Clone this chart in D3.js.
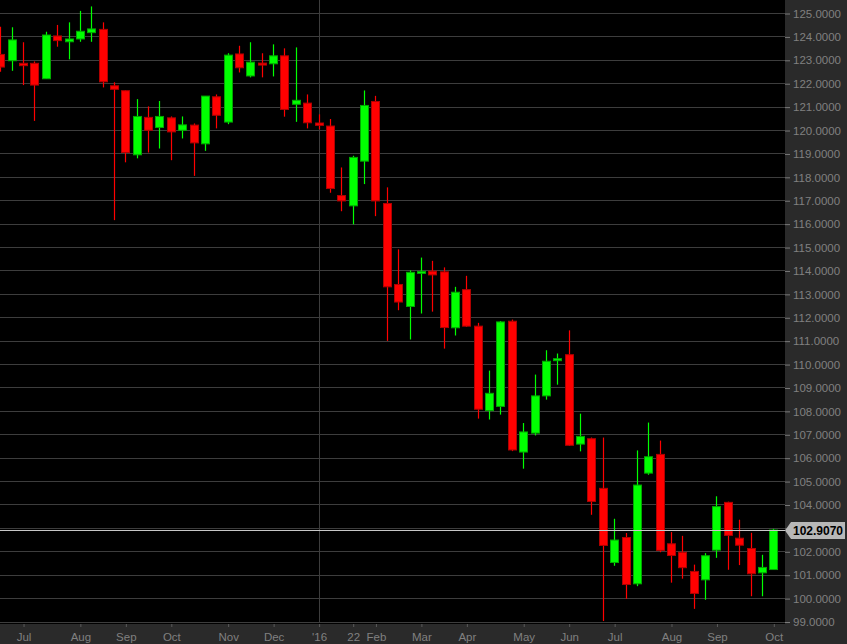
<!DOCTYPE html>
<html>
<head>
<meta charset="utf-8">
<script src="https://cdn.jsdelivr.net/npm/d3@7"></script>
<style>
  html, body { margin: 0; padding: 0; background: #2a2a2a; }
  svg { display: block; }
  text { font-family: "Liberation Sans", Arial, sans-serif; }
</style>
</head>
<body>
<svg id="chart" width="847" height="644"></svg>
<script>
// Weekly candles (week ending Friday)
const dates = [
  "2015-06-19","2015-06-26","2015-07-03","2015-07-10","2015-07-17","2015-07-24","2015-07-31",
  "2015-08-07","2015-08-14","2015-08-21","2015-08-28","2015-09-04","2015-09-11","2015-09-18",
  "2015-09-25","2015-10-02","2015-10-09","2015-10-16","2015-10-23","2015-10-30","2015-11-06",
  "2015-11-13","2015-11-20","2015-11-27","2015-12-04","2015-12-11","2015-12-18","2015-12-25",
  "2016-01-01","2016-01-08","2016-01-15","2016-01-22","2016-01-29","2016-02-05","2016-02-12",
  "2016-02-19","2016-02-26","2016-03-04","2016-03-11","2016-03-18","2016-03-25","2016-04-01",
  "2016-04-08","2016-04-15","2016-04-22","2016-04-29","2016-05-06","2016-05-13","2016-05-20",
  "2016-05-27","2016-06-03","2016-06-10","2016-06-17","2016-06-24","2016-07-01","2016-07-08",
  "2016-07-15","2016-07-22","2016-07-29","2016-08-05","2016-08-12","2016-08-19","2016-08-26",
  "2016-09-02","2016-09-09","2016-09-16","2016-09-23","2016-09-30","2016-10-07"
];
const opens = [
  123.23,122.96,122.85,122.85,122.19,124.02,123.77,123.89,124.16,124.30,121.89,121.68,118.94,120.54,
  120.11,120.52,119.99,120.21,119.41,121.42,120.34,123.25,122.31,122.86,122.83,123.17,121.10,121.15,
  120.30,120.17,117.20,116.76,118.67,121.22,116.86,113.40,112.46,113.90,113.97,113.94,111.55,113.18,
  111.62,108.01,108.19,111.83,106.24,107.05,108.64,110.16,110.40,106.58,106.81,104.69,101.52,102.59,
  100.61,105.34,106.14,102.32,101.96,101.14,100.78,102.05,104.09,102.56,102.12,101.08,101.22
];
const highs = [
  124.41,124.39,123.75,122.93,124.20,124.49,124.60,125.09,125.28,124.60,122.04,121.70,121.32,121.01,
  121.24,120.58,120.58,120.28,121.45,121.52,123.28,123.60,123.75,123.28,123.66,123.49,123.53,121.52,
  120.67,120.47,118.40,118.90,121.69,121.46,117.55,114.90,114.00,114.55,114.41,114.13,113.30,113.77,
  111.76,109.72,111.84,111.90,107.48,109.55,110.59,110.45,111.44,107.88,106.86,106.86,103.39,102.78,
  106.31,107.50,106.73,102.82,102.66,101.43,101.92,104.35,104.12,103.35,102.79,101.85,102.96
];
const lows = [
  122.49,122.53,121.92,120.39,122.19,123.56,123.02,123.77,123.77,121.82,116.15,118.62,118.79,119.04,
  119.21,118.71,119.64,118.04,119.11,120.07,120.25,122.46,122.25,122.25,122.29,120.57,120.35,120.07,
  120.03,117.32,116.53,115.97,117.69,116.32,110.99,112.30,111.05,112.16,112.24,110.66,111.22,111.59,
  107.67,107.63,107.84,106.28,105.53,106.95,108.48,109.12,106.50,106.27,103.56,99.02,101.38,99.97,
  100.51,105.27,101.96,100.66,100.83,99.54,99.93,101.72,101.21,101.41,100.08,100.08,101.22
];
const closes = [
  122.69,123.85,122.75,121.92,124.06,123.82,123.89,124.22,124.32,122.06,121.74,119.04,120.58,119.99,
  120.58,119.92,120.22,119.45,121.45,120.63,123.20,122.66,122.90,122.79,123.17,120.88,121.27,120.31,
  120.20,117.50,116.97,118.83,121.05,116.97,113.30,112.65,113.92,113.96,113.81,111.56,113.07,111.62,
  108.07,108.75,111.80,106.33,107.10,108.64,110.12,110.23,106.53,106.91,104.13,102.25,102.48,100.58,
  104.83,106.04,102.04,101.82,101.30,100.20,101.81,103.91,102.68,102.26,101.04,101.31,102.907
];
const yTicks = [99,100,101,102,103,104,105,106,107,108,109,110,111,112,113,114,115,116,117,118,119,120,121,122,123,124,125];
const hiddenYLabels = [103]; // covered by the last-price marker
const xTickDates = ["2015-07-03","2015-08-07","2015-09-04","2015-10-02","2015-11-06","2015-12-04","2016-01-01","2016-01-22","2016-02-05","2016-03-04","2016-04-01","2016-05-06","2016-06-03","2016-07-01","2016-08-05","2016-09-02","2016-10-07"];
const xTickLabels = ["Jul","Aug","Sep","Oct","Nov","Dec","'16","22","Feb","Mar","Apr","May","Jun","Jul","Aug","Sep","Oct"];
const yearMark = "2016-01-01";
const lastPrice = 102.907;

const parse = d3.utcParse("%Y-%m-%d");
const data = dates.map((d, i) => ({date: parse(d), o: opens[i], h: highs[i], l: lows[i], c: closes[i]}));

const W = 847, H = 644, plotW = 785, plotH = 624;
const svg = d3.select("#chart");

svg.append("rect").attr("x",0).attr("y",0).attr("width",W).attr("height",H).attr("fill","#2a2a2a");
svg.append("rect").attr("x",0).attr("y",0).attr("width",plotW).attr("height",plotH).attr("fill","#000000");

const x = d3.scaleUtc().domain([parse(dates[0]), parse(dates[dates.length-1])]).range([0.3, 773.3]);
const y = d3.scaleLinear().domain([99, 125]).range([621.5, 13]);

// horizontal grid
svg.append("g").selectAll("line").data(yTicks).join("line")
  .attr("x1", 0).attr("x2", plotW)
  .attr("y1", d => Math.round(y(d)) + 0.5).attr("y2", d => Math.round(y(d)) + 0.5)
  .attr("stroke", "#3d3d3d").attr("stroke-width", 1);

// year divider
svg.append("line")
  .attr("x1", Math.round(x(parse(yearMark))) + 0.5).attr("x2", Math.round(x(parse(yearMark))) + 0.5)
  .attr("y1", 0).attr("y2", plotH - 2)
  .attr("stroke", "#3d3d3d").attr("stroke-width", 1);

// right axis
const yAxis = d3.axisRight(y).tickValues(yTicks).tickSize(5).tickPadding(3)
  .tickFormat(d => hiddenYLabels.includes(d) ? "" : d3.format(".4f")(d));
const gy = svg.append("g").attr("transform", `translate(${plotW},0.5)`).call(yAxis);
gy.select(".domain").remove();
gy.selectAll(".tick line").attr("stroke", "#7a7a7a");
gy.selectAll(".tick text").attr("fill", "#808080").attr("font-size", 11.5)
  .attr("font-family", "'Liberation Sans', Arial, sans-serif");

// bottom axis
const xAxis = d3.axisBottom(x).tickValues(xTickDates.map(parse)).tickSize(3).tickPadding(6)
  .tickFormat((d, i) => xTickLabels[i]);
const gx = svg.append("g").attr("transform", `translate(0.5,${plotH})`).call(xAxis);
gx.select(".domain").remove();
gx.selectAll(".tick line").attr("stroke", "#5a5a5a");
gx.selectAll(".tick text").attr("fill", "#808080").attr("font-size", 11.5)
  .attr("font-family", "'Liberation Sans', Arial, sans-serif");

// candles
const bw = 8;
const clip = svg.append("clipPath").attr("id","plotclip").append("rect")
  .attr("x",0).attr("y",0).attr("width",plotW).attr("height",plotH - 1);
const gc = svg.append("g").attr("clip-path","url(#plotclip)");
const up = "#00ff00", upEdge = "#00a800", dn = "#ff0000", dnEdge = "#b00000";

gc.selectAll("line.wick").data(data).join("line").attr("class","wick")
  .attr("x1", d => Math.round(x(d.date)) + 0.5).attr("x2", d => Math.round(x(d.date)) + 0.5)
  .attr("y1", d => y(d.h)).attr("y2", d => y(d.l))
  .attr("stroke", d => d.c >= d.o ? up : dn).attr("stroke-width", 1.2);

gc.selectAll("rect.body").data(data).join("rect").attr("class","body")
  .attr("x", d => Math.round(x(d.date)) - bw/2 + 0.5)
  .attr("width", bw)
  .attr("y", d => y(Math.max(d.o, d.c)))
  .attr("height", d => Math.max(2, Math.abs(y(d.o) - y(d.c))))
  .attr("fill", d => d.c >= d.o ? up : dn)
  .attr("stroke", d => d.c >= d.o ? upEdge : dnEdge)
  .attr("stroke-width", 1);

// last price line and label
const py = Math.round(y(lastPrice)) + 0.5;
svg.append("line").attr("x1", 0).attr("x2", plotW).attr("y1", py).attr("y2", py)
  .attr("stroke", "#c8c8c8").attr("stroke-width", 1);
svg.append("path")
  .attr("d", `M${plotW} ${py} L${plotW+6} ${py-8.5} L${W-2} ${py-8.5} L${W-2} ${py+8.5} L${plotW+6} ${py+8.5} Z`)
  .attr("fill", "#b8b8b8");
svg.append("text").attr("x", plotW + 33).attr("y", py + 4.5)
  .attr("text-anchor", "middle").attr("font-size", 12).attr("font-weight", "bold")
  .attr("fill", "#000000").text(d3.format(".4f")(lastPrice));
</script>
</body>
</html>
